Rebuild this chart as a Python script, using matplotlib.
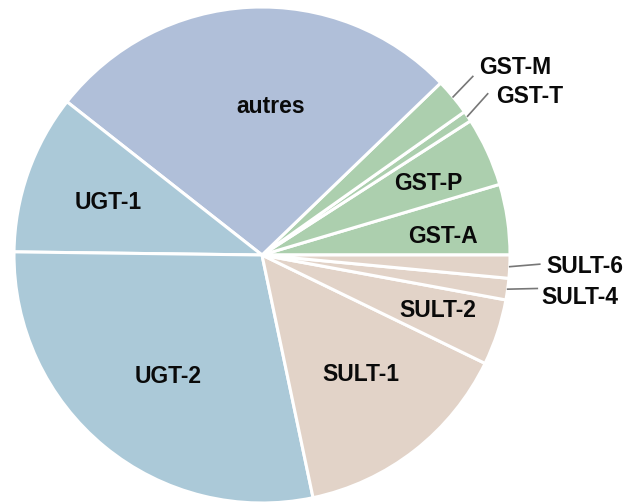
import numpy as np
import matplotlib
matplotlib.use("Agg")
import matplotlib.pyplot as plt

# slices counter-clockwise from 3 o'clock, percent of total
labels = ["GST-A", "GST-P", "GST-T", "GST-M", "autres", "UGT-1", "UGT-2",
          "SULT-1", "SULT-2", "SULT-4", "SULT-6"]
values = [4.6, 4.5, 0.7, 2.4, 27.2, 10.4, 28.5, 14.5, 4.3, 1.4, 1.5]

c_gst = "#accfae"
c_aut = "#b0bfd9"
c_ugt = "#abc9d8"
c_sult = "#e2d3c8"
colors = [c_gst] * 4 + [c_aut] + [c_ugt] * 2 + [c_sult] * 4

# label positions (data units, pie radius = 1)
label_pos = {
    "GST-A": (0.73, 0.075), "GST-P": (0.67, 0.29), "autres": (0.035, 0.6),
    "UGT-1": (-0.62, 0.21), "UGT-2": (-0.38, -0.49), "SULT-1": (0.40, -0.48),
    "SULT-2": (0.71, -0.225),
    "GST-M": (1.02, 0.755), "GST-T": (1.08, 0.64),
    "SULT-6": (1.30, -0.045), "SULT-4": (1.28, -0.17),
}
# leader lines for the small outside labels: (start radius factor, end point)
leaders = {
    "GST-M": (1.0, (0.85, 0.72)),
    "GST-T": (1.0, (0.91, 0.65)),
    "SULT-6": (1.0, (1.12, -0.037)),
    "SULT-4": (1.0, (1.11, -0.135)),
}

fig = plt.figure(figsize=(6.24, 5.04), dpi=100)
ax = fig.add_axes([0, 0, 1, 1])

wedges, _ = ax.pie(values, colors=colors, startangle=0, counterclock=True,
                   radius=1, wedgeprops=dict(edgecolor="white", linewidth=2.2))

fs = 16.5
for w, lab in zip(wedges, labels):
    x, y = label_pos[lab]
    ax.text(x, y, lab, ha="center", va="center", fontsize=fs,
            fontweight="bold", family="Liberation Sans", color="#0a0a0a")
    if lab in leaders:
        r, (ex, ey) = leaders[lab]
        mid = np.deg2rad((w.theta1 + w.theta2) / 2)
        sx, sy = r * np.cos(mid), r * np.sin(mid)
        ax.plot([sx, ex], [sy, ey], color="#777777", lw=1.2)

ax.set_xlim(-262 / 248, (624 - 262) / 248)
ax.set_ylim((255 - 504) / 248, 255 / 248)
ax.set_aspect("equal", adjustable="datalim")
ax.axis("off")

fig.savefig("out.png", dpi=100)
